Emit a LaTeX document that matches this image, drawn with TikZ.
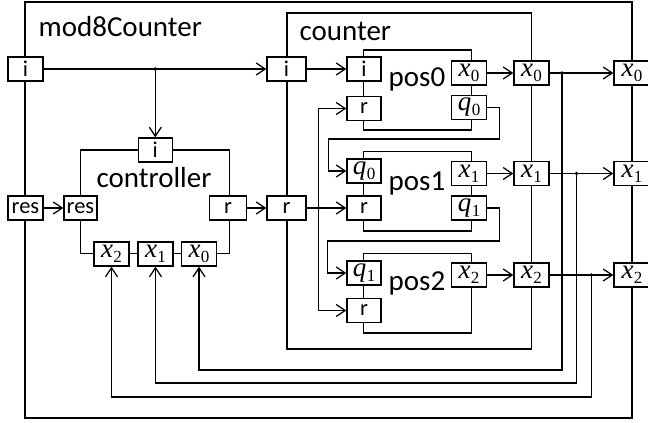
\RequirePackage{fix-cm}
\documentclass[tikz,border=0pt]{standalone}
\usepackage{fontspec}
\setmainfont{Carlito}
\newfontfamily\varfont{Liberation Serif}
\usetikzlibrary{arrows.meta}
\newcommand{\pvar}[2]{{\varfont\itshape #1}\kern0.5pt\raisebox{-5pt}{\varfont\fontsize{17}{17}\selectfont #2}}
\tikzset{
  port/.style={draw, fill=white, inner sep=0pt, minimum height=24pt, minimum width=35pt, font=\fontsize{22.5}{22.5}\selectfont},
  mport/.style={port, font=\fontsize{27}{27}\selectfont},
  lbl/.style={font=\fontsize{29}{30}\selectfont, inner sep=0pt, anchor=base west},
  arr/.style={-{Straight Barb[length=9pt,width=12pt]}},
  frame/.style={draw}
}
\begin{document}
\begin{tikzpicture}[x=1pt,y=-1pt,line width=1.3pt]
\useasboundingbox (0,0) rectangle (648,423);
\clip (0,0) rectangle (648,423);
% frames
\draw[frame] (25,2) rectangle (632,418);
\draw[frame] (80.5,150) rectangle (229.5,253.5);
\draw[frame] (287,13) rectangle (531.5,349);
\draw[frame] (363.5,50) rectangle (471.5,130);
\draw[frame] (363.5,151.5) rectangle (471.5,231);
\draw[frame] (363.5,253.5) rectangle (471.5,333);
% labels
\node[lbl] (Lmod) at (38,36) {mod8Counter};
\node[lbl] (Lctr) at (299,40) {counter};
\node[lbl] (Lcon) at (96,187) {controller};
\node[lbl] (Lp0) at (388,86.5) {pos0};
\node[lbl] (Lp1) at (388,190) {pos1};
\node[lbl] (Lp2) at (388,290) {pos2};
% outer ports
\node[port] (oi) at (25.5,69) {i};
\node[port] (ores) at (25.5,208) {res};
\node[mport,minimum width=36pt] (ox0) at (632,73) {\pvar{x}{0}};
\node[mport,minimum width=36pt] (ox1) at (632,173.5) {\pvar{x}{1}};
\node[mport,minimum width=36pt] (ox2) at (632,275) {\pvar{x}{2}};
% controller ports
\node[port,minimum width=34pt] (ci) at (155.3,150) {i};
\node[port,minimum width=33pt] (cres) at (80.5,208) {res};
\node[port,minimum width=37pt] (cr) at (228,208) {r};
\node[mport] (cx2) at (111.5,254) {\pvar{x}{2}};
\node[mport] (cx1) at (155.5,254) {\pvar{x}{1}};
\node[mport] (cx0) at (199,254) {\pvar{x}{0}};
% counter ports
\node[port,minimum width=39pt] (cti) at (286.5,69) {i};
\node[port,minimum width=39pt] (ctr) at (286.5,208) {r};
\node[mport] (ctx0) at (531.5,73) {\pvar{x}{0}};
\node[mport] (ctx1) at (531.5,173.5) {\pvar{x}{1}};
\node[mport] (ctx2) at (531.5,275) {\pvar{x}{2}};
% pos0
\node[port,minimum width=34pt] (p0i) at (364,69) {i};
\node[port,minimum width=34pt] (p0r) at (364,108.5) {r};
\node[mport] (p0x) at (469,73) {\pvar{x}{0}};
\node[mport] (p0q) at (469,107.5) {\pvar{q}{0}};
% pos1
\node[mport,minimum width=34pt] (p1q) at (364,171) {\pvar{q}{0}};
\node[port,minimum width=34pt] (p1r) at (364,208) {r};
\node[mport] (p1x) at (469,173.5) {\pvar{x}{1}};
\node[mport] (p1qo) at (469,208) {\pvar{q}{1}};
% pos2
\node[mport,minimum width=34pt] (p2q) at (364,273) {\pvar{q}{1}};
\node[port,minimum width=34pt] (p2r) at (364,310.5) {r};
\node[mport] (p2x) at (469,275) {\pvar{x}{2}};
% junction points
\coordinate (dji) at (155.3,69);
\coordinate (dr) at (318.5,208);
\coordinate (d0) at (562,73);
\coordinate (d1) at (576.5,173.5);
\coordinate (d2) at (591.5,275);
% connectors
\draw[arr] (oi) -- (cti);
\draw[arr] (dji) -- (ci);
\draw[arr] (ores) -- (cres);
\draw[arr] (cr) -- (ctr);
\draw[arr] (cti) -- (p0i);
\draw (ctr) -- (dr);
\draw[arr] (dr) -- (p1r);
\draw[arr] (dr) |- (p0r);
\draw[arr] (dr) |- (p2r);
\draw[arr] (p0q.east) -- ++(12.5,0) |- (328.5,139) |- (p1q);
\draw[arr] (p1qo.east) -- ++(12,0) |- (327.5,241) |- (p2q);
\draw[arr] (p0x) -- (ctx0);
\draw[arr] (p1x) -- (ctx1);
\draw[arr] (p2x) -- (ctx2);
\draw (ctx0) -- (d0);
\draw (ctx1) -- (d1);
\draw (ctx2) -- (d2);
\draw[arr] (d0) -- (ox0);
\draw[arr] (d1) -- (ox1);
\draw[arr] (d2) -- (ox2);
\draw[arr] (d0) -- (562,370) -| (cx0);
\draw[arr] (d1) -- (576.5,383) -| (cx1);
\draw[arr] (d2) -- (591.5,397) -| (cx2);
% junction dots
\foreach \d in {dji,dr,d0,d1,d2} \fill (\d) circle (1.9pt);
\end{tikzpicture}
\end{document}
